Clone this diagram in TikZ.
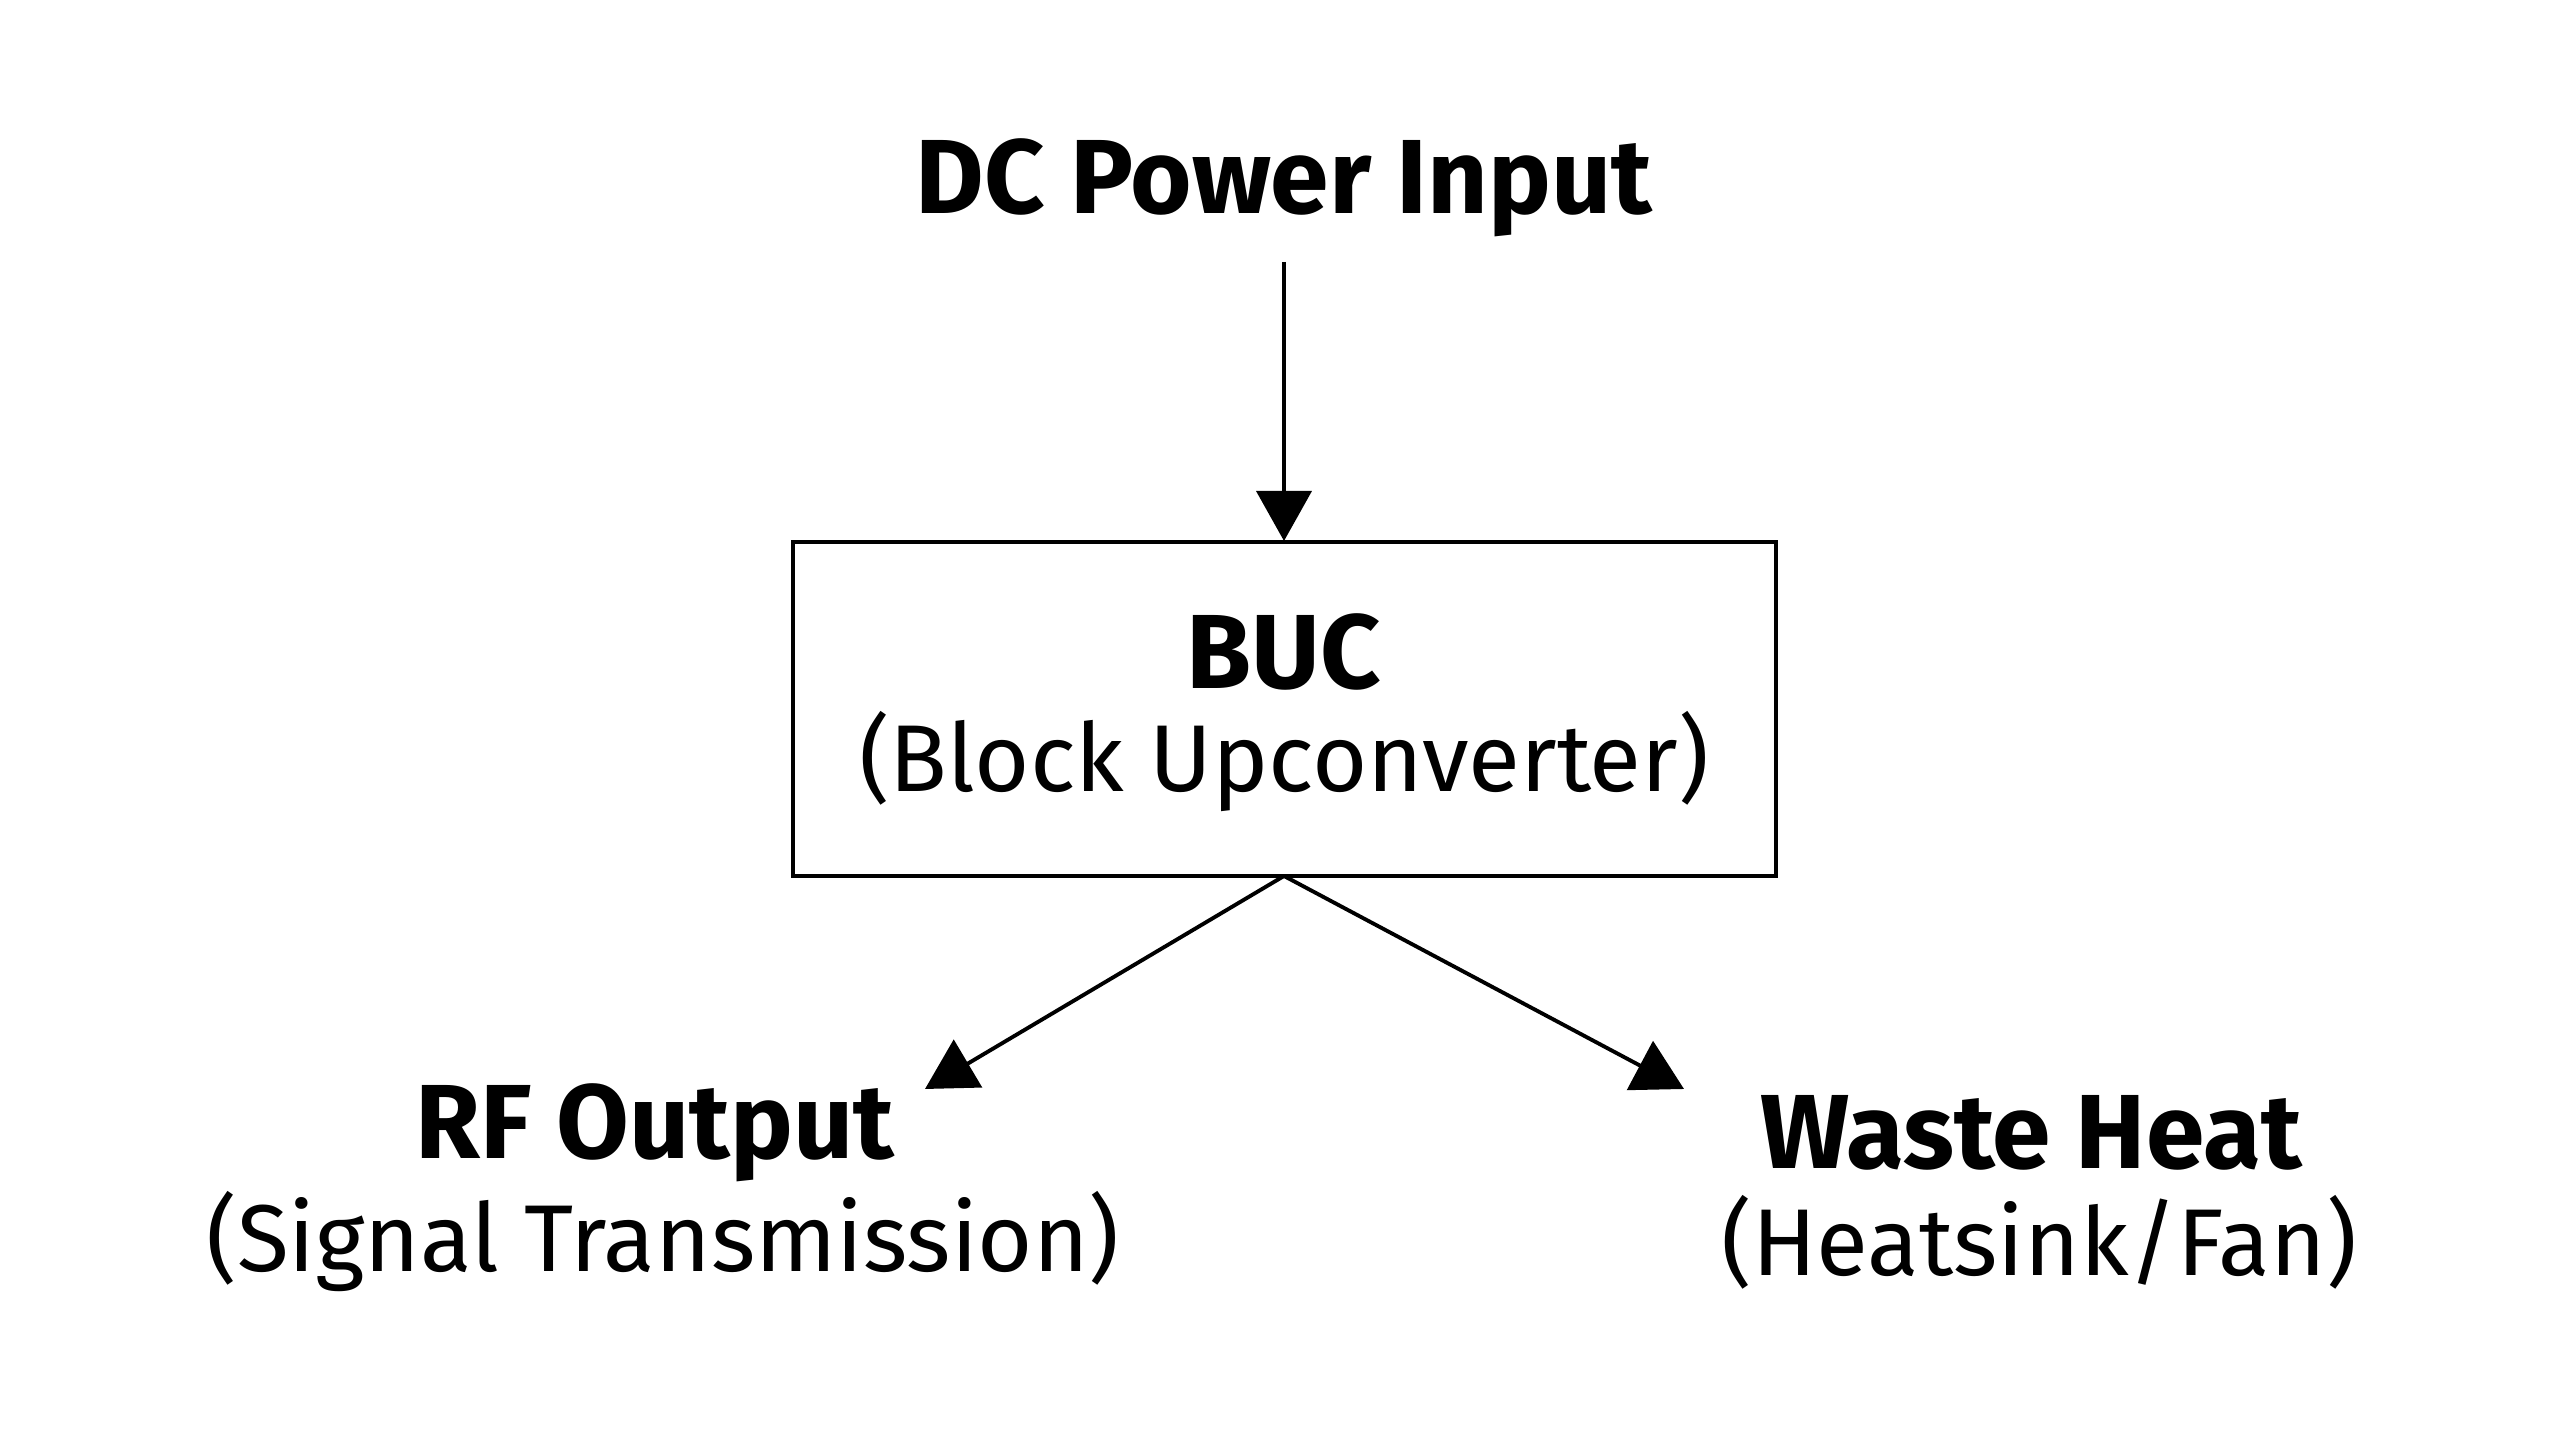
\documentclass[tikz,border=0pt]{standalone}
\usepackage{fontspec}
\setmainfont{Fira Sans}
\usetikzlibrary{arrows.meta}
\tikzset{
  head/.style={font=\fontsize{30}{34}\selectfont\bfseries},
  sub/.style={font=\fontsize{27}{32}\selectfont},
  flow/.style={line width=1.1pt, -{Triangle[length=0.5cm,width=0.55cm]}}
}
\begin{document}
\begin{tikzpicture}
\useasboundingbox (0,0) rectangle (25.6,14.29);
\node[head] (dc) at (12.84,12.41) {DC Power Input};
\draw[line width=1pt] (7.93,5.53) rectangle (17.76,8.87);
\node[head] (buc) at (12.84,7.77) {BUC};
\node[sub] (bucsub) at (12.84,6.67) {(Block Upconverter)};
\coordinate (top) at (12.84,11.67);
\coordinate (in) at (12.84,8.88);
\coordinate (out) at (12.84,5.53);
\coordinate (rfend) at (9.25,3.40);
\coordinate (heatend) at (16.84,3.40);
\node[head] (rf) at (6.55,2.96) {RF Output};
\node[sub] (rfsub) at (6.63,1.87) {(Signal Transmission)};
\node[head] (heat) at (20.31,2.96) {Waste Heat};
\node[sub] (heatsub) at (20.39,1.87) {(Heatsink/Fan)};
\draw[flow] (top) -- (in);
\draw[flow] (out) -- (rfend);
\draw[flow] (out) -- (heatend);
\end{tikzpicture}
\end{document}
